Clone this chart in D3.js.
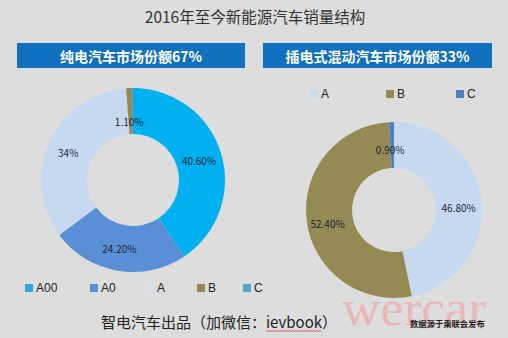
<!DOCTYPE html>
<html>
<head>
<meta charset="utf-8">
<script src="https://cdn.jsdelivr.net/npm/d3@7"></script>
<style>
  html, body { margin: 0; padding: 0; background: #dddddd; }
  svg { display: block; font-family: "Noto Sans CJK SC", "Microsoft YaHei", sans-serif; }
</style>
</head>
<body>
<svg id="chart" width="508" height="338"></svg>
<script>
// 2016年至今新能源汽车销量结构
const title = "2016年至今新能源汽车销量结构";

// 纯电汽车 (BEV) share by class
const bevTitle = "纯电汽车市场份额67%";
const bevCategories = ["A00", "A0", "A", "B", "C"];
const bevValues = [40.6, 24.2, 34.0, 1.1, 0.1];
const bevLabels = ["40.60%", "24.20%", "34%", "1.10%", ""];

// 插电式混动汽车 (PHEV) share by class
const phevTitle = "插电式混动汽车市场份额33%";
const phevCategories = ["A", "B", "C"];
const phevValues = [46.8, 52.4, 0.9];
const phevLabels = ["46.80%", "52.40%", "0.90%"];

const footerText = "智电汽车出品（加微信：ievbook）";
const sourceText = "数据源于乘联会发布";
const watermark = "wercar";

const classColors = {
  "A00": "#00b0f0",
  "A0": "#5b8fd5",
  "A": "#c6d9f1",
  "B": "#948a54",
  "C": "#4f81bd"
};
const legendColorsLeft = { "A00": "#2ea6dd", "A0": "#5b8fd5", "A": "#d6dfea", "B": "#948a54", "C": "#4aabc4" };

const svg = d3.select("#chart");

// Title
svg.append("text")
  .attr("x", 255).attr("y", 23)
  .attr("text-anchor", "middle")
  .attr("font-size", 15.5)
  .attr("fill", "#333")
  .text(title);

// Header banners
function banner(x, w, label) {
  svg.append("rect")
    .attr("x", x).attr("y", 43).attr("width", w).attr("height", 25)
    .attr("fill", "#1170bd");
  svg.append("text")
    .attr("x", x + w / 2).attr("y", 56)
    .attr("dominant-baseline", "central")
    .attr("text-anchor", "middle")
    .attr("font-size", 14)
    .attr("font-weight", "bold")
    .attr("fill", "#ffffff")
    .text(label);
}
banner(17, 228, bevTitle);
banner(263, 229, phevTitle);

// Donut helper
function donut(cx, cy, rOuter, rInner, cats, vals, labels, labelShift) {
  const data = cats.map((c, i) => ({ cat: c, value: vals[i], label: labels[i] }));
  const pie = d3.pie().value(d => d.value).sort(null);
  const arc = d3.arc().innerRadius(rInner).outerRadius(rOuter);
  const g = svg.append("g").attr("transform", `translate(${cx},${cy})`);
  const arcs = pie(data);
  g.selectAll("path").data(arcs).join("path")
    .attr("d", arc)
    .attr("fill", d => classColors[d.data.cat]);
  g.selectAll("text").data(arcs).join("text")
    .attr("transform", (d, i) => {
      const c = arc.centroid(d);
      const s = labelShift[i] || [0, 0];
      return `translate(${c[0] + s[0]},${c[1] + s[1]})`;
    })
    .attr("text-anchor", "middle")
    .attr("dominant-baseline", "central")
    .attr("font-size", 10)
    .attr("fill", "#1b1f3a")
    .text(d => d.data.label);
}

donut(133, 180, 92, 46, bevCategories, bevValues, bevLabels,
  [[0, 1], [-2, 0], [-2, 1], [-1, 10], [0, 0]]);
donut(394, 210, 88, 42, phevCategories, phevValues, phevLabels,
  [[0, 4], [-2, 5], [-2, 4]]);

// Legends
function legend(items, xs, y, colors) {
  items.forEach((c, i) => {
    svg.append("rect")
      .attr("x", xs[i]).attr("y", y - 4).attr("width", 8).attr("height", 8)
      .attr("fill", colors[c]);
    svg.append("text")
      .attr("x", xs[i] + 11).attr("y", y)
      .attr("dominant-baseline", "central")
      .attr("font-size", 12)
      .style("font-family", "'Liberation Sans', Arial, sans-serif")
      .attr("fill", "#222")
      .text(c);
  });
}
legend(bevCategories, [25, 90, 146, 197, 243], 288, legendColorsLeft);
legend(phevCategories, [310, 386, 456], 94, classColors);

// Watermark
svg.append("text")
  .attr("x", 342).attr("y", 325)
  .style("font-family", "'Liberation Serif', 'DejaVu Serif', serif")
  .style("font-size", "50px")
  .attr("textLength", 144)
  .attr("lengthAdjust", "spacingAndGlyphs")
  .attr("fill", "#eda9aa")
  .attr("fill-opacity", 0.75)
  .text(watermark);

// Footer
const footer = svg.append("text")
  .attr("x", 219).attr("y", 321)
  .attr("text-anchor", "middle")
  .attr("dominant-baseline", "central")
  .attr("font-size", 15)
  .attr("fill", "#222")
  .text(footerText);

// Spell-check style wavy underline under "ievbook"
const fb = footer.node().getBBox();
const idx = footerText.indexOf("ievbook");
const startX = footer.node().getStartPositionOfChar(idx).x;
const endX = footer.node().getEndPositionOfChar(idx + 6).x;
const wy = fb.y + fb.height - 1;
const pts = d3.range(startX, endX + 0.1, 1.5).map((x, i) => [x, wy + (i % 2 ? 1 : 0)]);
svg.append("path")
  .attr("d", d3.line()(pts))
  .attr("fill", "none")
  .attr("stroke", "#e03030")
  .attr("stroke-width", 0.8);

svg.append("text")
  .attr("x", 410).attr("y", 323)
  .attr("dominant-baseline", "central")
  .attr("font-size", 8.3)
  .attr("font-weight", "bold")
  .attr("fill", "#222")
  .text(sourceText);
</script>
</body>
</html>
